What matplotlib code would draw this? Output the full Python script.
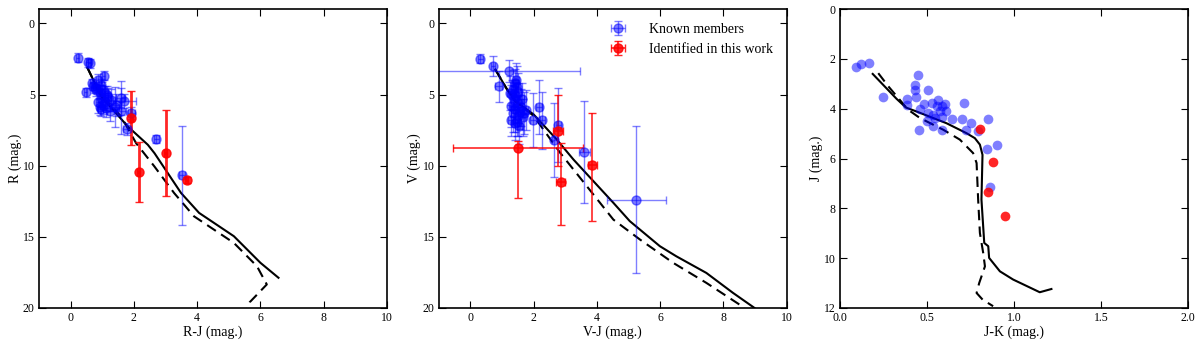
import numpy as np
import matplotlib.pyplot as plt

plt.rcParams['font.family'] = ['Liberation Serif', 'DejaVu Serif']
plt.rcParams['xtick.direction'] = 'in'
plt.rcParams['ytick.direction'] = 'in'
plt.rcParams['xtick.top'] = True
plt.rcParams['ytick.right'] = True

# ---- panel 1: R vs R-J ----
rj_known = [0.22, 0.55, 0.60, 0.48, 1.04, 0.66, 0.87, 0.97, 0.76, 0.92, 1.08, 1.18, 0.97, 0.87,
            1.08, 1.29, 0.92, 1.13, 1.26, 1.44, 1.58, 1.70, 1.60, 1.41, 1.79, 1.92, 2.70, 3.51,
            0.80, 1.00, 1.15, 0.70, 1.02, 0.95]
r_known = [2.41, 2.74, 2.80, 4.84, 3.67, 4.21, 3.98, 4.33, 4.56, 4.80, 4.91, 5.15, 5.26, 5.50,
           5.50, 5.38, 5.85, 5.96, 6.13, 5.73, 5.26, 5.43, 6.15, 5.85, 7.41, 6.31, 8.11, 10.69,
           4.70, 4.60, 5.00, 4.40, 5.70, 6.00]
rj_known_err = [0.05, 0.08, 0.05, 0.05, 0.06, 0.06, 0.08, 0.08, 0.06, 0.08, 0.10, 0.10, 0.08, 0.08,
                0.10, 0.12, 0.10, 0.12, 0.10, 0.15, 0.15, 0.37, 0.15, 0.12, 0.12, 0.10, 0.08, 0.10,
                0.06, 0.08, 0.10, 0.06, 0.08, 0.08]
r_known_err = [0.3, 0.3, 0.3, 0.3, 0.3, 0.3, 0.4, 0.4, 0.3, 0.5, 0.5, 0.6, 0.6, 0.8,
               0.6, 0.8, 0.6, 0.6, 0.7, 0.8, 1.2, 0.5, 1.6, 1.4, 0.4, 0.4, 0.3, 3.5,
               0.4, 0.5, 0.6, 0.3, 0.7, 0.5]

rj_new = [1.92, 2.15, 3.00, 3.67]
r_new = [6.66, 10.47, 9.12, 10.99]
rj_new_err = [0.05, 0.05, 0.05, 0.05]
r_new_err = [1.9, 2.1, 3.0, 0.2]

rj_iso = [0.53, 0.97, 1.81, 2.44, 2.65, 3.49, 4.06, 5.16, 6.00, 6.57]
r_iso = [3.11, 5.15, 7.25, 8.53, 9.12, 11.92, 13.32, 14.96, 16.83, 17.88]
rj_iso2 = [0.53, 0.97, 1.25, 1.60, 2.07, 2.65, 3.27, 3.90, 5.16, 5.89, 6.20, 5.66, 5.55]
r_iso2 = [3.11, 5.15, 5.70, 6.55, 8.42, 10.06, 11.92, 13.56, 15.43, 17.07, 18.35, 19.60, 20.2]

# ---- panel 2: V vs V-J ----
vj_known = [0.32, 0.71, 0.89, 1.23, 1.24, 1.31, 1.36, 1.42, 1.48, 1.30, 1.38, 1.45, 1.52, 1.60,
            1.35, 1.42, 1.50, 1.58, 1.65, 1.28, 1.40, 1.47, 1.55, 1.70, 1.45, 1.52, 1.62, 1.75,
            2.17, 2.28, 1.98, 2.78, 2.65, 3.60, 5.25]
v_known = [2.48, 3.00, 4.41, 3.35, 4.88, 5.00, 4.60, 4.20, 4.50, 5.80, 5.40, 5.10, 5.60, 5.90,
           6.30, 6.00, 6.50, 6.20, 6.60, 6.80, 7.00, 6.90, 7.20, 6.30, 4.00, 4.80, 5.30, 6.10,
           5.86, 6.80, 6.80, 7.17, 8.20, 9.03, 12.38]
vj_known_err = [0.08, 0.06, 0.10, 2.24, 0.08, 0.08, 0.08, 0.08, 0.08, 0.08, 0.08, 0.08, 0.08, 0.08,
                0.08, 0.08, 0.08, 0.08, 0.08, 0.08, 0.08, 0.08, 0.08, 0.08, 0.08, 0.08, 0.08, 0.08,
                0.08, 0.08, 0.08, 0.08, 0.08, 0.18, 0.93]
v_known_err = [0.3, 0.7, 1.1, 0.8, 1.2, 1.0, 1.3, 1.0, 1.5, 1.5, 1.2, 1.0, 1.4, 1.3,
               1.3, 1.6, 1.4, 1.2, 1.3, 1.1, 1.2, 1.0, 1.3, 1.5, 1.2, 1.3, 1.1, 1.4,
               1.9, 2.0, 1.9, 2.6, 2.6, 3.6, 5.2]

vj_new = [1.50, 2.77, 3.86, 2.85]
v_new = [8.79, 7.53, 9.97, 11.14]
vj_new_err = [2.05, 0.16, 0.13, 0.15]
v_new_lo = [0.5, 2.5, 3.7, 2.7]
v_new_hi = [3.5, 2.5, 3.9, 3.0]

vj_iso = [0.79, 1.16, 1.42, 2.00, 2.73, 3.26, 3.89, 4.52, 5.04, 5.99, 6.51, 7.46, 8.30, 8.98]
v_iso = [3.24, 4.64, 5.46, 6.40, 8.16, 9.57, 11.09, 12.61, 13.90, 15.66, 16.37, 17.54, 18.94, 20.0]
vj_iso2 = [0.79, 1.16, 1.42, 2.00, 2.84, 3.68, 4.52, 5.36, 6.41, 7.46, 8.67]
v_iso2 = [3.24, 4.64, 5.46, 6.50, 9.10, 11.44, 13.79, 15.19, 16.83, 18.24, 20.0]

# ---- panel 3: J vs J-K ----
jk_known = [0.092, 0.119, 0.167, 0.249, 0.446, 0.431, 0.429, 0.434, 0.503, 0.383, 0.386, 0.459,
            0.482, 0.526, 0.565, 0.555, 0.584, 0.603, 0.574, 0.612, 0.503, 0.532, 0.545, 0.589,
            0.645, 0.704, 0.714, 0.750, 0.723, 0.501, 0.536, 0.586, 0.454, 0.794, 0.852, 0.842,
            0.900, 0.861]
j_known = [2.33, 2.19, 2.17, 3.53, 2.65, 3.05, 3.24, 3.53, 3.26, 3.61, 3.84, 4.01,
           3.80, 3.77, 3.64, 3.88, 3.88, 3.80, 4.07, 4.08, 4.17, 4.24, 4.37, 4.33,
           4.41, 4.41, 3.77, 4.58, 4.87, 4.48, 4.68, 4.87, 4.84, 4.91, 4.40, 5.61,
           5.44, 7.14]

jk_new = [0.804, 0.877, 0.848, 0.947]
j_new = [4.82, 6.14, 7.34, 8.32]

jk_iso = [0.188, 0.325, 0.379, 0.440, 0.612, 0.727, 0.775, 0.804, 0.819, 0.813, 0.829, 0.852,
          0.857, 0.919, 0.995, 1.148, 1.215]
j_iso = [2.60, 3.60, 3.95, 4.11, 4.58, 4.98, 5.18, 5.44, 5.85, 7.65, 9.39, 9.52,
         9.99, 10.53, 10.86, 11.37, 11.24]
jk_iso2 = [0.220, 0.278, 0.392, 0.459, 0.593, 0.689, 0.765, 0.785, 0.794, 0.804, 0.823, 0.833,
           0.800, 0.785, 0.820, 0.880]
j_iso2 = [2.57, 3.10, 4.04, 4.37, 4.84, 5.24, 5.78, 6.18, 7.65, 8.99, 9.79, 10.33,
          11.00, 11.40, 11.67, 11.93]

fig = plt.figure(figsize=(12, 3.41), dpi=100)
ax1 = fig.add_axes([0.0325, 0.097, 0.29, 0.876])
ax2 = fig.add_axes([0.3656, 0.097, 0.29, 0.876])
ax3 = fig.add_axes([0.70, 0.097, 0.29, 0.876])

blue = dict(fmt='o', color='b', ecolor='b', alpha=0.5, ms=6.5, mec='b', elinewidth=1, capsize=3)
dash = (5, 3)

# panel 1
ax1.plot(rj_iso, r_iso, 'k-', lw=1.5)
ax1.plot(rj_iso2, r_iso2, 'k--', lw=1.5, dashes=dash)
ax1.errorbar(rj_known, r_known, xerr=rj_known_err, yerr=r_known_err, **blue)
ax1.errorbar(rj_new, r_new, xerr=rj_new_err, yerr=r_new_err, fmt='o', color='r', ecolor='r',
             alpha=0.85, ms=6.5, mec='r', elinewidth=2, capsize=3)
ax1.set_xlim(-1, 10)
ax1.set_ylim(20, -1)
ax1.set_xticks([0, 2, 4, 6, 8, 10])
ax1.set_yticks([0, 5, 10, 15, 20])
ax1.set_xlabel('R-J (mag.)', fontsize=10, labelpad=1)
ax1.set_ylabel('R (mag.)', fontsize=10, labelpad=1)

# panel 2
ax2.plot(vj_iso, v_iso, 'k-', lw=1.5)
ax2.plot(vj_iso2, v_iso2, 'k--', lw=1.5, dashes=dash)
ax2.errorbar(vj_known, v_known, xerr=vj_known_err, yerr=v_known_err, label='Known members', **blue)
ax2.errorbar(vj_new, v_new, xerr=vj_new_err, yerr=[v_new_lo, v_new_hi], fmt='o', color='r',
             ecolor='r', alpha=0.85, ms=6.5, mec='r', elinewidth=1.2, capsize=3,
             label='Identified in this work')
ax2.set_xlim(-1, 10)
ax2.set_ylim(20, -1)
ax2.set_xticks([0, 2, 4, 6, 8, 10])
ax2.set_yticks([0, 5, 10, 15, 20])
ax2.set_xlabel('V-J (mag.)', fontsize=10, labelpad=1)
ax2.set_ylabel('V (mag.)', fontsize=10, labelpad=1)
ax2.legend(loc='upper right', frameon=False, fontsize=10, numpoints=1,
           handletextpad=1.2, borderaxespad=0.6)

# panel 3
ax3.plot(jk_iso, j_iso, 'k-', lw=1.5)
ax3.plot(jk_iso2, j_iso2, 'k--', lw=1.5, dashes=dash)
ax3.plot(jk_known, j_known, 'o', color='b', alpha=0.5, ms=7, mec='none')
ax3.plot(jk_new, j_new, 'o', color='r', alpha=0.85, ms=7, mec='none')
ax3.set_xlim(0, 2.0)
ax3.set_ylim(12, 0)
ax3.set_xticks([0.0, 0.5, 1.0, 1.5, 2.0])
ax3.set_yticks([0, 2, 4, 6, 8, 10, 12])
ax3.set_xlabel('J-K (mag.)', fontsize=10, labelpad=1)
ax3.set_ylabel('J (mag.)', fontsize=10, labelpad=1)

for ax in (ax1, ax2, ax3):
    ax.tick_params(labelsize=8.5, length=5, width=0.8, pad=3)
    for s in ax.spines.values():
        s.set_linewidth(1.2)

fig.savefig('out.png', dpi=100)
